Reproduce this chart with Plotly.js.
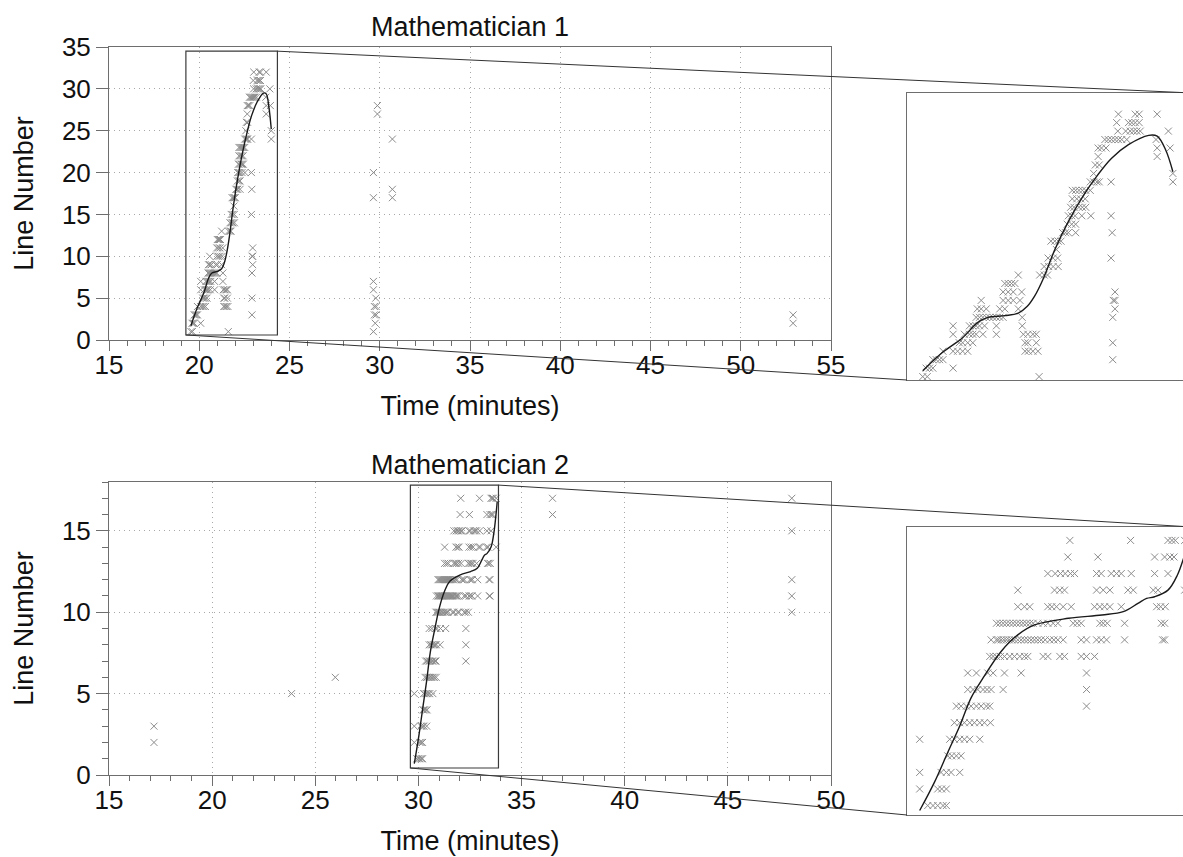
<!DOCTYPE html>
<html>
<head>
<meta charset="utf-8">
<script src="https://cdn.plot.ly/plotly-3.0.1.min.js"></script>
<style>
html,body{margin:0;padding:0;overflow:hidden;background:#fff;width:1183px;height:857px}
#chart{width:1192px;height:857px}
</style>
</head>
<body>
<div id="chart"></div>
<script>
// ---------------- DATA ----------------
// Mathematician 1: line numbers and the times (minutes) at which each line was looked at
const m1LineNumbers = [32,31,30,29,28,27,26,25,24,23,22,21,20,19,18,17,16,15,14,13,12,11,10,9,8,7,6,5,4,3,2,1,
  28,27,20,17,24,18,17,7,6,5,4,3,2,1,3,2];
const m1TimesByLine = [
  [23.02,23.32,23.39,23.71],
  [22.99,23.20,23.26,23.32,23.39],
  [23.01,23.15,23.23,23.29,23.35,23.41,23.91],
  [22.78,22.84,22.90,22.96,23.02,23.08,23.17,23.69],
  [22.66,22.72,22.80,23.71,23.94],
  [22.66,23.71],
  [22.61,22.68],
  [22.58,23.99],
  [22.52,22.58,22.64,22.68,22.89,23.99],
  [22.20,22.26,22.32,22.38,22.44,22.52],
  [22.20,22.28,22.35,22.43],
  [22.17,22.23,22.32,22.38,22.44],
  [22.13,22.19,22.25,22.37,22.53,22.89],
  [22.11,22.19,22.26],
  [22.03,22.08,22.13,22.26,22.91],
  [21.82,21.89,21.95,22.00],
  [21.92],
  [21.77,21.86,21.94,22.89],
  [21.70,21.78,21.86,21.95],
  [21.24,21.62,21.70,21.76],
  [21.00,21.06,21.12,21.18],
  [20.97,21.06,21.15,21.30,22.96],
  [20.58,20.97,21.06,21.15,21.27,22.93,22.96],
  [20.51,20.58,20.67,20.91,21.00,21.24,22.96],
  [20.49,20.55,20.61,20.67,20.73,20.79,20.85,20.91,20.97,21.31,22.92],
  [20.08,20.37,20.43,20.49,20.55,20.64,20.85,21.31],
  [20.08,20.28,20.37,20.43,20.49,20.61,20.85,21.33,21.41,21.50,21.56],
  [20.19,20.25,20.34,20.43,21.36,21.41,21.56,22.92],
  [19.90,20.08,20.16,20.25,20.34,21.36,21.42,21.50,21.59],
  [19.72,19.78,19.84,19.90,22.92],
  [19.60,19.66,19.72,20.08],
  [19.54,19.62,21.61],
  [29.87],[29.87],[29.65],[29.65],[30.70],[30.70],[30.70],
  [29.65],[29.65],[29.78],[29.70,29.80],[29.70,29.80],[29.75],[29.65],
  [52.9],[52.9]
];
// fitted curve, Mathematician 1
const m1FitTime = [19.54,19.90,20.25,20.52,20.70,21.00,21.24,21.40,21.53,21.68,21.89,22.13,22.40,22.65,22.90,23.20,23.56,23.71,23.86,23.99];
const m1FitLine = [1.7,3.9,5.6,7.4,8.0,8.2,8.5,9.3,10.5,12.5,16.0,19.3,22.4,24.8,26.8,28.4,29.5,29.4,27.8,25.2];

// Mathematician 2
const m2LineNumbers = [17,16,15,14,13,12,11,10,9,8,7,6,5,4,3,2,1];
const m2TimesByLine = [
  [32.05,32.96,33.52,33.58,33.63,33.77,36.50,48.10],
  [32.02,32.47,33.32,33.47,33.55,33.61,36.50],
  [31.72,31.83,31.91,31.98,32.06,32.12,32.45,32.52,32.67,32.75,32.82,32.97,33.32,33.52,48.10],
  [31.27,31.82,31.90,31.97,32.45,32.55,32.65,32.92,33.00,33.30,33.37,33.77],
  [31.27,31.37,31.45,31.72,31.78,31.85,31.95,32.07,32.42,32.50,32.57,32.65,32.82,33.35,33.41,33.48],
  [30.95,31.00,31.05,31.10,31.15,31.20,31.25,31.30,31.35,31.40,31.45,31.50,31.57,31.65,31.72,31.80,31.87,32.10,32.16,32.22,32.50,32.55,32.61,32.87,33.42,33.47,48.10],
  [30.87,30.95,30.98,31.02,31.06,31.10,31.14,31.18,31.22,31.27,31.32,31.37,31.42,31.47,31.52,31.57,31.62,31.68,31.75,31.81,31.87,31.95,32.22,32.30,32.45,32.52,32.60,32.87,33.44,33.47,48.10],
  [30.85,30.90,30.95,31.01,31.07,31.15,31.22,31.30,31.37,31.42,31.65,31.72,31.90,31.97,32.22,32.30,32.42,48.10],
  [30.52,30.65,30.82,30.90,31.07,31.32,32.30],
  [30.52,30.60,30.67,30.75,30.81,30.87,31.05,32.30],
  [30.35,30.42,30.50,30.57,30.65,30.72,30.80,30.85,32.30],
  [30.32,30.40,30.47,30.55,30.62,30.70,30.77,30.86,25.97],
  [29.80,30.25,30.32,30.40,30.47,30.55,30.70,23.85],
  [30.22,30.28,30.35,30.42],
  [29.80,30.12,30.20,30.27,30.40,17.18],
  [29.80,30.07,30.13,30.20,17.18],
  [29.92,30.00,30.07,30.15,30.20]
];
const m2FitTime = [29.80,30.02,30.22,30.40,30.57,30.75,31.02,31.27,31.52,32.03,32.53,32.85,33.07,33.20,33.32,33.52,33.66,33.76,33.82];
const m2FitLine = [0.7,2.4,4.2,5.8,7.5,8.7,10.3,11.3,11.9,12.3,12.5,12.7,13.2,13.5,13.6,14.0,14.9,16.0,16.8];

// axis ranges and zoom windows
const m1XRange = [15, 55], m1YRange = [0, 35];
const m2XRange = [15, 50], m2YRange = [0, 18];
const zoom1 = {x: [19.26, 24.33], y: [0.6, 34.5]};
const zoom2 = {x: [29.61, 33.88], y: [0.43, 17.81]};
const xTickVals = [15,20,25,30,35,40,45,50,55];

// ---------------- LAYOUT GEOMETRY (px) ----------------
const W = 1192, H = 857;
const fr = {
  main1:  {l:109, r:831, t:47,  b:340},
  inset1: {l:907, r:1192, t:93, b:380},
  main2:  {l:109, r:831, t:482, b:775},
  inset2: {l:907, r:1192, t:527, b:815}
};
const fx = p => p / W, fy = p => 1 - p / H;
const domX = f => [fx(f.l), Math.min(1, fx(f.r))];
const domY = f => [fy(f.b), fy(f.t)];

function expand(lines, times) {
  const xs = [], ys = [];
  lines.forEach((ln, i) => times[i].forEach(t => { xs.push(t); ys.push(ln); }));
  return {xs, ys};
}
const p1 = expand(m1LineNumbers, m1TimesByLine);
const p2 = expand(m2LineNumbers, m2TimesByLine);

const FONT = 'Liberation Sans, Arial, Helvetica, sans-serif';
const AX = '#6e6e6e';
const markerStyle = {symbol: 'x-thin', size: 7, color: '#8c8c8c', line: {width: 1, color: '#8c8c8c'}};
const fitStyle = {color: '#1a1a1a', width: 1.4, shape: 'spline', smoothing: 1};

function pts(d, xa, ya) {
  return {type: 'scatter', mode: 'markers', x: d.xs, y: d.ys, xaxis: xa, yaxis: ya,
    marker: markerStyle, hoverinfo: 'x+y'};
}
function fit(x, y, xa, ya) {
  return {type: 'scatter', mode: 'lines', x: x, y: y, xaxis: xa, yaxis: ya, line: fitStyle, hoverinfo: 'skip'};
}

const data = [
  pts(p1, 'x', 'y'), fit(m1FitTime, m1FitLine, 'x', 'y'),
  pts(p1, 'x2', 'y2'), fit(m1FitTime, m1FitLine, 'x2', 'y2'),
  pts(p2, 'x3', 'y3'), fit(m2FitTime, m2FitLine, 'x3', 'y3'),
  pts(p2, 'x4', 'y4'), fit(m2FitTime, m2FitLine, 'x4', 'y4')
];

const tickfont = {family: FONT, size: 26, color: '#111'};
const titlefont = {family: FONT, size: 27, color: '#111'};
const grid = {showgrid: true, gridcolor: '#a8a8a8', gridwidth: 1, griddash: '1px,4px'};

function mainX(f, range, anchor) {
  return Object.assign({
    domain: domX(f), range: range, anchor: anchor, tickmode: 'array', tickvals: xTickVals,
    ticks: 'outside', ticklen: 10, tickwidth: 1, tickcolor: AX, ticklabelstandoff: -8,
    minor: {dtick: 1, tick0: 15, ticks: 'outside', ticklen: 5, tickwidth: 1, tickcolor: AX, showgrid: false},
    showline: true, linecolor: AX, linewidth: 1, mirror: true, zeroline: false,
    tickfont: tickfont, title: {text: 'Time (minutes)', font: titlefont, standoff: 16}
  }, grid);
}
function mainY(f, range, anchor, minor) {
  const o = Object.assign({
    domain: domY(f), range: range, anchor: anchor, dtick: 5, tick0: 0,
    ticks: 'outside', ticklen: 12, tickwidth: 1, tickcolor: AX,
    showline: true, linecolor: AX, linewidth: 1, mirror: true, zeroline: false,
    tickfont: tickfont, title: {text: 'Line Number', font: titlefont, standoff: 20}
  }, grid);
  if (minor) o.minor = {dtick: 1, ticks: 'outside', ticklen: 6, tickwidth: 1, tickcolor: AX, showgrid: false};
  return o;
}
function insetAx(dom, range, anchor) {
  return {domain: dom, range: range, anchor: anchor, showticklabels: false, ticks: '',
    showgrid: false, zeroline: false, showline: true, linecolor: AX, linewidth: 1, mirror: true};
}

// data -> paper coordinates for connector lines
function toPaper(f, xr, yr, x, y) {
  return [fx(f.l + (x - xr[0]) / (xr[1] - xr[0]) * (f.r - f.l)),
          fy(f.b - (y - yr[0]) / (yr[1] - yr[0]) * (f.b - f.t))];
}
function connectors(fm, xr, yr, z, fi) {
  const a = toPaper(fm, xr, yr, z.x[1], z.y[1]);
  const b = toPaper(fm, xr, yr, z.x[0], z.y[0]);
  const ln = {type: 'line', xref: 'paper', yref: 'paper', line: {color: '#333', width: 1}, layer: 'above'};
  return [
    Object.assign({}, ln, {x0: a[0], y0: a[1], x1: fx(fi.r), y1: fy(fi.t)}),
    Object.assign({}, ln, {x0: b[0], y0: b[1], x1: fx(fi.l), y1: fy(fi.b)})
  ];
}
const rectStyle = {type: 'rect', line: {color: '#3a3a3a', width: 1.2}, fillcolor: 'rgba(0,0,0,0)', layer: 'above'};

const shapes = [
  Object.assign({}, rectStyle, {xref: 'x', yref: 'y', x0: zoom1.x[0], x1: zoom1.x[1], y0: zoom1.y[0], y1: zoom1.y[1]}),
  Object.assign({}, rectStyle, {xref: 'x3', yref: 'y3', x0: zoom2.x[0], x1: zoom2.x[1], y0: zoom2.y[0], y1: zoom2.y[1]})
].concat(connectors(fr.main1, m1XRange, m1YRange, zoom1, fr.inset1))
 .concat(connectors(fr.main2, m2XRange, m2YRange, zoom2, fr.inset2));

const layout = {
  width: W, height: H, margin: {l: 0, r: 0, t: 0, b: 0, autoexpand: false},
  paper_bgcolor: '#fff', plot_bgcolor: '#fff', showlegend: false,
  font: {family: FONT, color: '#111'},
  xaxis: mainX(fr.main1, m1XRange, 'y'),
  yaxis: mainY(fr.main1, m1YRange, 'x', false),
  xaxis2: insetAx(domX(fr.inset1), zoom1.x, 'y2'),
  yaxis2: insetAx(domY(fr.inset1), zoom1.y, 'x2'),
  xaxis3: mainX(fr.main2, m2XRange, 'y3'),
  yaxis3: mainY(fr.main2, m2YRange, 'x3', true),
  xaxis4: insetAx(domX(fr.inset2), zoom2.x, 'y4'),
  yaxis4: insetAx(domY(fr.inset2), zoom2.y, 'x4'),
  shapes: shapes,
  annotations: [
    {text: 'Mathematician 1', xref: 'paper', yref: 'paper', x: fx((fr.main1.l + fr.main1.r) / 2), y: fy(27),
     xanchor: 'center', yanchor: 'middle', showarrow: false, font: {family: FONT, size: 27, color: '#111'}},
    {text: 'Mathematician 2', xref: 'paper', yref: 'paper', x: fx((fr.main2.l + fr.main2.r) / 2), y: fy(465),
     xanchor: 'center', yanchor: 'middle', showarrow: false, font: {family: FONT, size: 27, color: '#111'}}
  ]
};

Plotly.newPlot('chart', data, layout, {displayModeBar: false, responsive: false});
</script>
</body>
</html>
